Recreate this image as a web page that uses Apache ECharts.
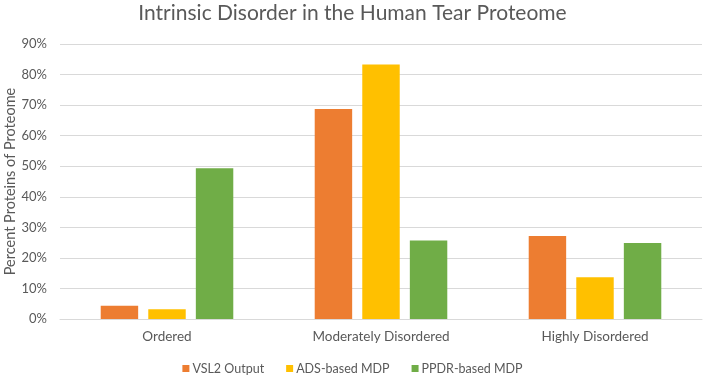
<!DOCTYPE html>
<html>
<head>
<meta charset="utf-8">
<script src="https://cdn.jsdelivr.net/npm/echarts@6/dist/echarts.min.js"></script>
<style>
html, body { margin: 0; padding: 0; background: #fff; }
#container { width: 705px; height: 378px; }
</style>
</head>
<body>
<div id="container"></div>
<script>
var categories = ['Ordered', 'Moderately Disordered', 'Highly Disordered'];
var seriesNames = ['VSL2 Output', 'ADS-based MDP', 'PPDR-based MDP'];
var vsl2 = [4.3, 68.7, 27.2];
var ads = [3.2, 83.3, 13.7];
var ppdr = [49.3, 25.7, 24.9];
var colors = ['#ed7d31', '#ffc000', '#70ad47'];

var dom = document.getElementById('container');
var myChart = echarts.init(dom);
var font = 'Lato, "Open Sans", sans-serif';
var txt = '#595959';

var option = {
	animation: false,
	color: colors,
	title: {
		text: 'Intrinsic Disorder in the Human Tear Proteome',
		left: 'center',
		top: 3,
		padding: 0,
		textStyle: { color: txt, fontSize: 21, fontWeight: 'normal', fontFamily: font }
	},
	legend: {
		bottom: 3,
		left: 'center',
		padding: 0,
		itemWidth: 7,
		itemHeight: 7,
		itemGap: 22,
		icon: 'rect',
		textStyle: { color: txt, fontSize: 12.5, fontFamily: font, padding: [0, 0, 0, -2] },
		data: seriesNames
	},
	grid: { left: 60, right: 3, top: 44, bottom: 59, outerBoundsMode: 'none', containLabel: false },
	xAxis: {
		type: 'category',
		data: categories,
		axisLine: { lineStyle: { color: '#d9d9d9' } },
		axisTick: { show: false },
		axisLabel: { color: txt, fontSize: 13.5, fontFamily: font, margin: 11 }
	},
	yAxis: {
		type: 'value',
		min: 0,
		max: 90,
		interval: 10,
		name: 'Percent Proteins of Proteome',
		nameLocation: 'middle',
		nameGap: 42,
		nameMoveOverlap: false,
		nameTextStyle: { color: txt, fontSize: 14.5, fontFamily: font },
		axisLine: { show: false },
		axisTick: { show: false },
		axisLabel: { color: txt, fontSize: 13, fontFamily: font, formatter: '{value}%', margin: 13 },
		splitLine: { lineStyle: { color: '#d9d9d9' } }
	},
	series: [
		{ name: seriesNames[0], type: 'bar', data: vsl2, barWidth: '17.5%', barGap: '27%' },
		{ name: seriesNames[1], type: 'bar', data: ads, barWidth: '17.5%', barGap: '27%' },
		{ name: seriesNames[2], type: 'bar', data: ppdr, barWidth: '17.5%', barGap: '27%' }
	]
};

myChart.setOption(option);
</script>
</body>
</html>
